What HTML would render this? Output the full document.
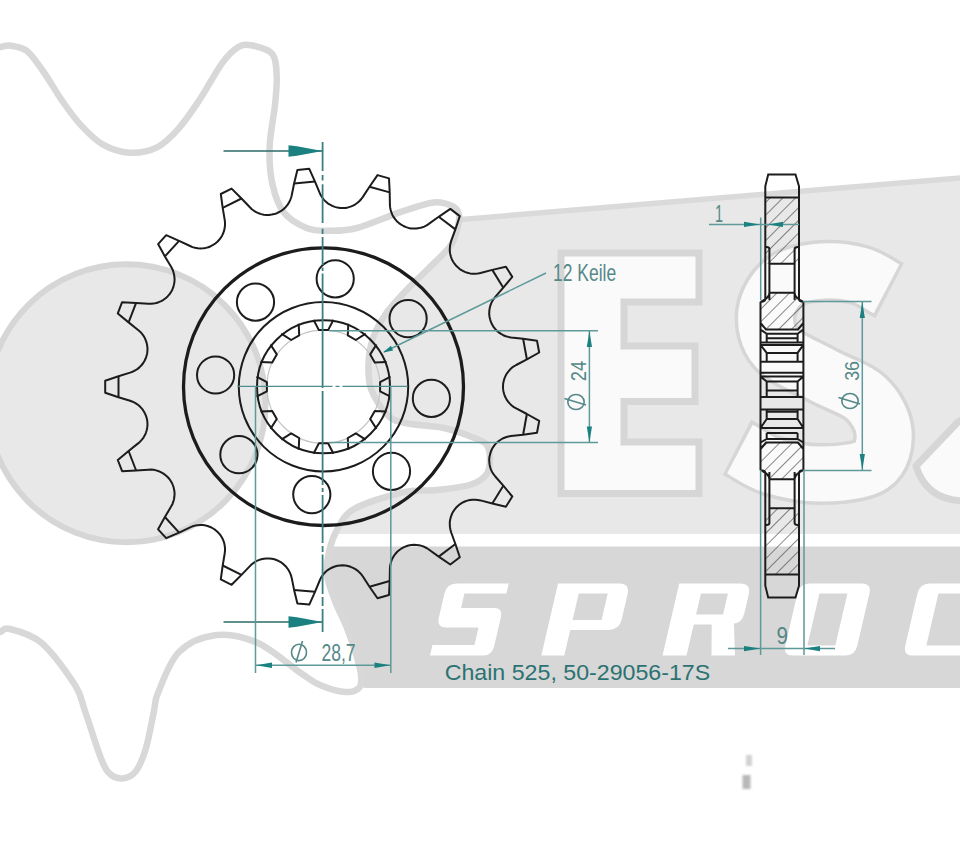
<!DOCTYPE html>
<html><head><meta charset="utf-8"><style>html,body{margin:0;padding:0;background:#fff;width:960px;height:849px;overflow:hidden;position:relative}</style></head>
<body>
<svg width="960" height="849" viewBox="0 0 960 849" style="position:absolute;left:0;top:0">
<rect width="960" height="849" fill="#ffffff"/>
<polygon points="300,236 460,219 960,178 960,534 300,534" fill="#e8e8e8"/>
<line x1="440" y1="221.2" x2="960" y2="178" stroke="#dadada" stroke-width="5.5"/>
<polygon points="300,546.5 960,546.5 960,688 364,688 345,670 300,620" fill="#d7d7d7"/>
<path d="M561,253 H699 V302 H624 V346 H695 V401.5 H624 V442 H699 V493.5 H561 Z" fill="#fafafa" stroke="#d6d6d6" stroke-width="7" stroke-linejoin="miter"/>
<path d="M889.6,290.6 L886.5,289.0 C882.1,286.7 870.8,278.0 860.0,275.0 C849.2,272.0 834.5,270.0 822.0,271.0 C809.5,272.0 794.3,274.2 785.0,281.0 C775.7,287.8 767.5,300.8 766.0,312.0 C764.5,323.2 766.7,337.5 776.0,348.0 C785.3,358.5 807.0,366.7 822.0,375.0 C837.0,383.3 855.7,388.5 866.0,398.0 C876.3,407.5 883.0,420.8 884.0,432.0 C885.0,443.2 882.3,458.0 872.0,465.0 C861.7,472.0 838.7,473.8 822.0,474.0 C805.3,474.2 785.7,470.2 772.0,466.0 C758.3,461.8 745.3,451.8 740.0,449.0 L736.9,447.4" fill="none" stroke="#d6d6d6" stroke-width="62" stroke-linecap="butt"/>
<path d="M886.5,289.0 C882.1,286.7 870.8,278.0 860.0,275.0 C849.2,272.0 834.5,270.0 822.0,271.0 C809.5,272.0 794.3,274.2 785.0,281.0 C775.7,287.8 767.5,300.8 766.0,312.0 C764.5,323.2 766.7,337.5 776.0,348.0 C785.3,358.5 807.0,366.7 822.0,375.0 C837.0,383.3 855.7,388.5 866.0,398.0 C876.3,407.5 883.0,420.8 884.0,432.0 C885.0,443.2 882.3,458.0 872.0,465.0 C861.7,472.0 838.7,473.8 822.0,474.0 C805.3,474.2 785.7,470.2 772.0,466.0 C758.3,461.8 745.3,451.8 740.0,449.0" fill="none" stroke="#fafafa" stroke-width="55" stroke-linecap="butt"/>
<path d="M975,412 L958,422 L916,466 Q926,499 962,501 L975,501 Z" fill="#fafafa" stroke="#d6d6d6" stroke-width="7" stroke-linejoin="round"/>
<path transform="translate(430.0,655.5) skewX(-13.1)" d="M62,-72 L62,-62 L20,-62 L20,-47.5 L53,-47.5 Q62,-47.5 62,-38.5 L62,-9 Q62,0 53,0 L0,0 L0,-10.5 L42,-10.5 L42,-28 L10,-28 Q0,-28 0,-38 L0,-62 Q0,-72 10,-72 Z" fill="#ffffff" fill-rule="evenodd"/>
<path transform="translate(541.3,655.5) skewX(-13.1)" d="M0,0 L0,-72 L61,-72 Q72,-72 72,-61 L72,-36 Q72,-25.5 61,-25.5 L23,-25.5 L23,0 Z M23,-62 L52,-62 L52,-35.5 L23,-35.5 Z" fill="#ffffff" fill-rule="evenodd"/>
<path transform="translate(662.5,655.5) skewX(-13.1)" d="M0,0 L0,-72 L61,-72 Q72,-72 72,-61 L72,-42 Q72,-33 64,-32 L72.5,0 L49,0 L42,-31 L24,-31 L24,0 Z M24,-62 L51,-62 L51,-41 L24,-41 Z" fill="#ffffff" fill-rule="evenodd"/>
<path transform="translate(783.0,655.5) skewX(-13.1)" d="M10,-72 L62,-72 Q72,-72 72,-62 L72,-10 Q72,0 62,0 L10,0 Q0,0 0,-10 L0,-62 Q0,-72 10,-72 Z M22,-62 L50,-62 L50,-10 L22,-10 Z" fill="#ffffff" fill-rule="evenodd"/>
<path transform="translate(903.0,655.5) skewX(-13.1)" d="M10,-72 L72,-72 L72,-62 L21,-62 L21,-10 L72,-10 L72,0 L10,0 Q0,0 0,-10 L0,-62 Q0,-72 10,-72 Z" fill="#ffffff" fill-rule="evenodd"/>
<path d="M-20.0,53.0 C-16.7,52.0 -5.1,48.3 0.0,47.1 C5.1,45.9 6.3,45.1 10.8,45.7 C15.3,46.4 21.6,46.7 27.0,51.0 C32.4,55.3 37.4,63.2 43.3,71.5 C49.2,79.8 56.0,92.0 62.3,101.0 C68.6,110.0 74.5,118.3 81.3,125.6 C88.1,132.9 94.9,140.1 103.0,144.6 C111.1,149.1 121.0,152.2 130.0,152.7 C139.0,153.1 148.9,151.4 157.0,147.3 C165.1,143.2 171.6,136.4 178.8,128.3 C186.0,120.2 193.2,109.3 200.4,98.5 C207.6,87.7 215.7,71.9 222.0,63.3 C228.3,54.7 233.2,50.0 238.3,47.0 C243.4,44.0 246.9,44.3 252.6,45.5 C258.3,46.7 268.4,48.8 272.4,54.0 C276.4,59.2 276.3,68.1 276.7,76.6 C277.1,85.1 276.2,93.3 275.0,105.0 C273.8,116.7 270.0,133.8 269.6,147.0 C269.2,160.2 270.0,173.1 272.4,184.0 C274.8,194.9 278.0,205.0 283.7,212.3 C289.4,219.6 298.8,224.8 306.4,227.9 C313.9,231.0 320.6,230.7 329.0,230.7 C337.4,230.7 345.2,231.1 357.0,228.0 C368.8,224.9 386.9,216.6 399.7,212.3 C412.5,208.0 424.7,203.4 433.6,202.4 C442.6,201.4 449.2,204.5 453.4,206.6 C457.6,208.7 458.2,211.8 459.0,215.0 C459.8,218.2 459.3,221.0 458.0,226.0 C456.7,231.0 456.0,237.8 451.0,245.0 C446.0,252.2 435.4,261.5 428.0,269.0 C420.6,276.5 413.8,282.3 406.6,290.0 C399.4,297.7 390.6,306.8 385.0,315.0 C379.4,323.2 375.4,330.8 372.7,339.0 C369.9,347.2 368.8,355.7 368.5,364.0 C368.2,372.3 367.9,380.6 371.0,389.0 C374.1,397.4 381.3,409.0 387.0,414.7 C392.7,420.4 395.5,420.8 405.0,423.0 C414.5,425.2 433.3,425.8 444.0,428.0 C454.7,430.2 462.0,433.3 469.0,436.0 C476.0,438.7 482.5,440.2 486.0,444.0 C489.5,447.8 490.0,453.8 490.0,459.0 C490.0,464.2 489.4,470.7 486.0,475.0 C482.6,479.3 477.8,482.5 469.5,485.0 C461.2,487.5 447.8,488.7 436.5,490.0 C425.2,491.3 415.8,489.4 402.0,492.6 C388.2,495.8 364.8,502.8 354.0,509.0 C343.2,515.2 341.2,522.8 337.0,530.0 C332.8,537.2 330.7,544.5 329.0,552.0 C327.3,559.5 326.0,566.8 327.0,575.0 C328.0,583.2 331.7,592.2 335.0,601.0 C338.3,609.8 343.5,619.2 347.0,628.0 C350.5,636.8 353.7,646.2 356.0,654.0 C358.3,661.8 360.5,669.3 361.0,675.0 C361.5,680.7 361.7,685.2 359.0,688.0 C356.3,690.8 351.5,692.5 345.0,692.0 C338.5,691.5 327.5,688.2 320.0,685.0 C312.5,681.8 310.3,679.5 300.0,672.5 C289.7,665.5 271.9,649.2 258.0,643.0 C244.1,636.8 229.9,633.5 216.7,635.0 C203.5,636.5 188.8,642.3 179.0,652.0 C169.2,661.7 162.2,683.2 158.0,693.0 C153.8,702.8 156.0,701.8 154.0,711.0 C152.0,720.2 149.0,738.0 146.0,748.0 C143.0,758.0 140.0,765.9 136.0,771.0 C132.0,776.1 126.7,778.3 122.0,778.5 C117.3,778.7 111.8,776.2 108.0,772.0 C104.2,767.8 102.8,763.2 99.0,753.0 C95.2,742.8 89.0,722.3 85.0,711.0 C81.0,699.7 82.2,696.3 75.0,685.0 C67.8,673.7 52.5,652.3 41.7,643.0 C30.9,633.7 16.9,630.8 10.0,629.0 C3.0,627.2 5.0,629.8 0.0,632.0 C-5.0,634.2 -13.3,637.0 -20.0,642.0 C-26.7,647.0 -36.7,658.7 -40.0,662.0 L-60,662 L-60,53 Z" fill="#ffffff" stroke="#d8d8d8" stroke-width="6.5" stroke-linejoin="round"/>
<circle cx="126.5" cy="403.3" r="139" fill="#e8e8e8" stroke="#d6d6d6" stroke-width="6"/>
<path d="M147.1,419.7 L146.4,417.1 L145.5,414.6 L144.3,412.2 L142.9,409.9 L141.2,407.9 L139.4,406.0 L137.3,404.3 L135.0,402.9 L132.6,401.7 L130.1,400.8 L118.5,397.2 L105.2,392.7 L105.2,380.7 L118.5,376.2 L130.1,372.6 L132.6,371.7 L135.0,370.5 L137.3,369.1 L139.4,367.4 L141.2,365.5 L142.9,363.5 L144.3,361.2 L145.5,358.8 L146.4,356.3 L147.1,353.7 L147.1,353.7 L147.4,351.1 L147.5,348.4 L147.2,345.7 L146.7,343.1 L145.9,340.6 L144.8,338.1 L143.5,335.8 L141.9,333.7 L140.1,331.7 L138.1,330.0 L128.6,322.4 L117.8,313.4 L122.1,302.2 L136.1,302.9 L148.3,303.7 L150.9,303.8 L153.6,303.6 L156.2,303.0 L158.7,302.2 L161.2,301.1 L163.5,299.8 L165.6,298.2 L167.6,296.4 L169.4,294.4 L170.9,292.2 L170.9,292.2 L172.2,289.9 L173.2,287.4 L173.9,284.8 L174.4,282.2 L174.6,279.5 L174.4,276.9 L174.0,274.2 L173.3,271.7 L172.4,269.2 L171.1,266.8 L164.9,256.4 L158.1,244.1 L166.2,235.2 L179.1,240.8 L190.1,246.0 L192.5,247.1 L195.1,247.8 L197.7,248.2 L200.4,248.4 L203.1,248.3 L205.7,247.9 L208.3,247.2 L210.8,246.2 L213.1,244.9 L215.3,243.5 L215.3,243.5 L217.4,241.7 L219.2,239.8 L220.8,237.7 L222.2,235.4 L223.3,233.0 L224.2,230.4 L224.7,227.8 L225.0,225.2 L225.0,222.5 L224.7,219.9 L222.7,207.9 L220.8,194.0 L231.6,188.6 L241.5,198.5 L249.9,207.3 L251.8,209.2 L254.0,210.8 L256.2,212.2 L258.7,213.3 L261.2,214.1 L263.8,214.7 L266.5,215.0 L269.1,214.9 L271.8,214.6 L274.4,214.1 L274.4,214.1 L276.9,213.2 L279.3,212.0 L281.6,210.7 L283.7,209.0 L285.6,207.2 L287.3,205.1 L288.8,202.9 L290.0,200.5 L291.0,198.0 L291.7,195.5 L294.1,183.5 L297.4,169.9 L309.3,168.8 L315.0,181.6 L319.7,192.9 L320.8,195.3 L322.2,197.5 L323.8,199.6 L325.7,201.6 L327.7,203.3 L330.0,204.7 L332.3,205.9 L334.8,206.9 L337.4,207.6 L340.1,208.0 L340.1,208.0 L342.7,208.1 L345.4,207.9 L348.0,207.4 L350.6,206.6 L353.0,205.6 L355.4,204.3 L357.5,202.8 L359.5,201.0 L361.3,199.0 L362.9,196.9 L369.5,186.7 L377.5,175.1 L389.0,178.4 L389.7,192.4 L389.9,204.6 L390.1,207.2 L390.6,209.8 L391.4,212.4 L392.4,214.9 L393.7,217.2 L395.3,219.4 L397.0,221.4 L399.0,223.1 L401.2,224.7 L403.5,226.0 L403.5,226.0 L406.0,227.1 L408.5,227.9 L411.1,228.4 L413.8,228.6 L416.5,228.5 L419.1,228.1 L421.7,227.5 L424.2,226.6 L426.6,225.4 L428.8,223.9 L438.7,216.8 L450.3,208.9 L459.8,216.1 L455.4,229.4 L451.2,240.9 L450.5,243.4 L450.0,246.0 L449.8,248.7 L449.8,251.4 L450.2,254.0 L450.9,256.6 L451.8,259.1 L453.0,261.5 L454.5,263.7 L456.2,265.8 L456.2,265.8 L458.1,267.6 L460.1,269.3 L462.4,270.7 L464.8,271.9 L467.3,272.8 L469.9,273.4 L472.6,273.7 L475.2,273.7 L477.9,273.5 L480.5,273.0 L492.3,269.9 L505.9,266.7 L512.3,276.9 L503.3,287.7 L495.3,296.9 L493.7,299.0 L492.2,301.2 L491.1,303.6 L490.2,306.1 L489.6,308.7 L489.3,311.4 L489.2,314.1 L489.5,316.7 L490.1,319.3 L490.9,321.9 L490.9,321.9 L492.0,324.3 L493.3,326.6 L494.9,328.7 L496.7,330.7 L498.8,332.4 L501.0,333.9 L503.3,335.2 L505.8,336.2 L508.4,336.9 L511.0,337.4 L523.1,338.7 L537.0,340.7 L539.2,352.5 L526.9,359.4 L516.2,365.0 L513.9,366.3 L511.7,367.9 L509.8,369.8 L508.1,371.8 L506.5,374.0 L505.3,376.4 L504.3,378.8 L503.6,381.4 L503.1,384.0 L503.0,386.7 L503.0,386.7 L503.1,389.4 L503.6,392.0 L504.3,394.6 L505.3,397.0 L506.5,399.4 L508.1,401.6 L509.8,403.6 L511.7,405.5 L513.9,407.1 L516.2,408.4 L526.9,414.0 L539.2,420.9 L537.0,432.7 L523.1,434.7 L511.0,436.0 L508.4,436.5 L505.8,437.2 L503.3,438.2 L501.0,439.5 L498.8,441.0 L496.7,442.7 L494.9,444.7 L493.3,446.8 L492.0,449.1 L490.9,451.5 L490.9,451.5 L490.1,454.1 L489.5,456.7 L489.2,459.3 L489.3,462.0 L489.6,464.7 L490.2,467.3 L491.1,469.8 L492.2,472.2 L493.7,474.4 L495.3,476.5 L503.3,485.7 L512.3,496.5 L505.9,506.7 L492.3,503.5 L480.5,500.4 L477.9,499.9 L475.2,499.7 L472.6,499.7 L469.9,500.0 L467.3,500.6 L464.8,501.5 L462.4,502.7 L460.1,504.1 L458.1,505.8 L456.2,507.6 L456.2,507.6 L454.5,509.7 L453.0,511.9 L451.8,514.3 L450.9,516.8 L450.2,519.4 L449.8,522.0 L449.8,524.7 L450.0,527.4 L450.5,530.0 L451.2,532.5 L455.4,544.0 L459.8,557.3 L450.3,564.5 L438.7,556.6 L428.8,549.5 L426.6,548.0 L424.2,546.8 L421.7,545.9 L419.1,545.3 L416.5,544.9 L413.8,544.8 L411.1,545.0 L408.5,545.5 L406.0,546.3 L403.5,547.4 L403.5,547.4 L401.2,548.7 L399.0,550.3 L397.0,552.0 L395.3,554.0 L393.7,556.2 L392.4,558.5 L391.4,561.0 L390.6,563.6 L390.1,566.2 L389.9,568.8 L389.7,581.0 L389.0,595.0 L377.5,598.3 L369.5,586.7 L362.9,576.5 L361.3,574.4 L359.5,572.4 L357.5,570.6 L355.4,569.1 L353.0,567.8 L350.6,566.8 L348.0,566.0 L345.4,565.5 L342.7,565.3 L340.1,565.4 L340.1,565.4 L337.4,565.8 L334.8,566.5 L332.3,567.5 L330.0,568.7 L327.7,570.1 L325.7,571.8 L323.8,573.8 L322.2,575.9 L320.8,578.1 L319.7,580.5 L315.0,591.8 L309.3,604.6 L297.4,603.5 L294.1,589.9 L291.7,577.9 L291.0,575.4 L290.0,572.9 L288.8,570.5 L287.3,568.3 L285.6,566.2 L283.7,564.4 L281.6,562.7 L279.3,561.4 L276.9,560.2 L274.4,559.3 L274.4,559.3 L271.8,558.8 L269.1,558.5 L266.5,558.4 L263.8,558.7 L261.2,559.3 L258.7,560.1 L256.2,561.2 L254.0,562.6 L251.8,564.2 L249.9,566.1 L241.5,574.9 L231.6,584.8 L220.8,579.4 L222.7,565.5 L224.7,553.5 L225.0,550.9 L225.0,548.2 L224.7,545.6 L224.2,543.0 L223.3,540.4 L222.2,538.0 L220.8,535.7 L219.2,533.6 L217.4,531.7 L215.3,529.9 L215.3,529.9 L213.1,528.5 L210.8,527.2 L208.3,526.2 L205.7,525.5 L203.1,525.1 L200.4,525.0 L197.7,525.2 L195.1,525.6 L192.5,526.3 L190.1,527.4 L179.1,532.6 L166.2,538.2 L158.1,529.3 L164.9,517.0 L171.1,506.6 L172.4,504.2 L173.3,501.7 L174.0,499.2 L174.4,496.5 L174.6,493.9 L174.4,491.2 L173.9,488.6 L173.2,486.0 L172.2,483.5 L170.9,481.2 L170.9,481.2 L169.4,479.0 L167.6,477.0 L165.6,475.2 L163.5,473.6 L161.2,472.3 L158.7,471.2 L156.2,470.4 L153.6,469.8 L150.9,469.6 L148.3,469.7 L136.1,470.5 L122.1,471.2 L117.8,460.0 L128.6,451.0 L138.1,443.4 L140.1,441.7 L141.9,439.7 L143.5,437.6 L144.8,435.3 L145.9,432.8 L146.7,430.3 L147.2,427.7 L147.5,425.0 L147.4,422.3 L147.1,419.7Z" fill="none" stroke="#1c1c1c" stroke-width="2" stroke-linejoin="round"/>
<line x1="118.5" y1="397.2" x2="118.5" y2="376.2" stroke="#1c1c1c" stroke-width="2"/>
<line x1="128.6" y1="322.4" x2="136.1" y2="302.9" stroke="#1c1c1c" stroke-width="2"/>
<line x1="164.9" y1="256.4" x2="179.1" y2="240.8" stroke="#1c1c1c" stroke-width="2"/>
<line x1="222.7" y1="207.9" x2="241.5" y2="198.5" stroke="#1c1c1c" stroke-width="2"/>
<line x1="294.1" y1="183.5" x2="315.0" y2="181.6" stroke="#1c1c1c" stroke-width="2"/>
<line x1="369.5" y1="186.7" x2="389.7" y2="192.4" stroke="#1c1c1c" stroke-width="2"/>
<line x1="438.7" y1="216.8" x2="455.4" y2="229.4" stroke="#1c1c1c" stroke-width="2"/>
<line x1="492.3" y1="269.9" x2="503.3" y2="287.7" stroke="#1c1c1c" stroke-width="2"/>
<line x1="523.1" y1="338.7" x2="526.9" y2="359.4" stroke="#1c1c1c" stroke-width="2"/>
<line x1="526.9" y1="414.0" x2="523.1" y2="434.7" stroke="#1c1c1c" stroke-width="2"/>
<line x1="503.3" y1="485.7" x2="492.3" y2="503.5" stroke="#1c1c1c" stroke-width="2"/>
<line x1="455.4" y1="544.0" x2="438.7" y2="556.6" stroke="#1c1c1c" stroke-width="2"/>
<line x1="389.7" y1="581.0" x2="369.5" y2="586.7" stroke="#1c1c1c" stroke-width="2"/>
<line x1="315.0" y1="591.8" x2="294.1" y2="589.9" stroke="#1c1c1c" stroke-width="2"/>
<line x1="241.5" y1="574.9" x2="222.7" y2="565.5" stroke="#1c1c1c" stroke-width="2"/>
<line x1="179.1" y1="532.6" x2="164.9" y2="517.0" stroke="#1c1c1c" stroke-width="2"/>
<line x1="136.1" y1="470.5" x2="128.6" y2="451.0" stroke="#1c1c1c" stroke-width="2"/>
<ellipse cx="323.5" cy="386.7" rx="140" ry="138.8" fill="none" stroke="#1c1c1c" stroke-width="3.3"/>
<circle cx="323.5" cy="386.7" r="84.7" fill="none" stroke="#1c1c1c" stroke-width="2"/>
<circle cx="431.4" cy="398.4" r="18.6" fill="none" stroke="#1c1c1c" stroke-width="2"/>
<circle cx="391.5" cy="471.3" r="18.6" fill="none" stroke="#1c1c1c" stroke-width="2"/>
<circle cx="311.8" cy="494.6" r="18.6" fill="none" stroke="#1c1c1c" stroke-width="2"/>
<circle cx="238.9" cy="454.7" r="18.6" fill="none" stroke="#1c1c1c" stroke-width="2"/>
<circle cx="215.6" cy="375.0" r="18.6" fill="none" stroke="#1c1c1c" stroke-width="2"/>
<circle cx="255.5" cy="302.1" r="18.6" fill="none" stroke="#1c1c1c" stroke-width="2"/>
<circle cx="335.2" cy="278.8" r="18.6" fill="none" stroke="#1c1c1c" stroke-width="2"/>
<circle cx="408.1" cy="318.7" r="18.6" fill="none" stroke="#1c1c1c" stroke-width="2"/>
<circle cx="323.5" cy="386.7" r="56.6" fill="none" stroke="#c4c4c4" stroke-width="1.2"/>
<circle cx="323.5" cy="386.7" r="66.5" fill="none" stroke="#1c1c1c" stroke-width="2"/>
<path d="M313.5,319.7 L318.9,330.1 L328.1,330.1 L333.5,319.7 M348.3,323.7 L347.8,335.4 L355.8,340.0 L365.7,333.7 M376.5,344.5 L370.2,354.4 L374.8,362.4 L386.5,361.9 M390.5,376.7 L380.1,382.1 L380.1,391.3 L390.5,396.7 M386.5,411.5 L374.8,411.0 L370.2,419.0 L376.5,428.9 M365.7,439.7 L355.8,433.4 L347.8,438.0 L348.3,449.7 M333.5,453.7 L328.1,443.3 L318.9,443.3 L313.5,453.7 M298.7,449.7 L299.2,438.0 L291.2,433.4 L281.3,439.7 M270.5,428.9 L276.8,419.0 L272.2,411.0 L260.5,411.5 M256.5,396.7 L266.9,391.3 L266.9,382.1 L256.5,376.7 M260.5,361.9 L272.2,362.4 L276.8,354.4 L270.5,344.5 M281.3,333.7 L291.2,340.0 L299.2,335.4 L298.7,323.7 " fill="none" stroke="#1c1c1c" stroke-width="2" stroke-linejoin="round"/>
<defs><pattern id="hat" patternUnits="userSpaceOnUse" width="9" height="9" patternTransform="rotate(45)"><line x1="0" y1="0" x2="0" y2="9" stroke="#484848" stroke-width="1.3"/></pattern></defs>
<path d="M765.3,197.4 H799.0 V263.7 H765.3 Z" fill="url(#hat)" stroke="none"/>
<path d="M765.3,508.3 H799.0 V574.6 H765.3 Z" fill="url(#hat)" stroke="none"/>
<path d="M769.4,292.8 H794.6 L803.4,301.8 V323 L798.4,329.5 H765.5 L760.5,323 V301.8 Z" fill="url(#hat)" stroke="none"/>
<path d="M765.5,442.5 H798.4 L803.4,449.0 V470.2 L794.6,479.2 H769.4 L760.5,470.2 V449.0 Z" fill="url(#hat)" stroke="none"/>
<path d="M765.3,300 V186.3 L768.2,174.4 H795.5 L799.0,186.3 V300 M765.3,472.0 V585.7 L768.2,597.6 H795.5 L799.0,585.7 V472.0 M760.5,301.8 V470.2 M803.4,301.8 V470.2 M765.3,299 Q765.3,301.8 760.5,301.8 M799.0,299 Q799.0,301.8 803.4,301.8 M765.3,473.0 Q765.3,470.2 760.5,470.2 M799.0,473.0 Q799.0,470.2 803.4,470.2 M765.3,197.4 H799.0 M765.3,574.6 H799.0 M769.4,263.7 H794.6 M769.4,508.3 H794.6 M769.4,292.8 H794.6 M769.4,479.2 H794.6 M769.4,300 V249 Q769.4,247 766.3,247 M794.6,300 V249 Q794.6,247 798.0,247 M769.4,472.0 V523.0 Q769.4,525.0 766.3,525.0 M794.6,472.0 V523.0 Q794.6,525.0 798.0,525.0 M769.4,292.8 Q769.4,298 760.5,301.8 M794.6,292.8 Q794.6,298 803.4,301.8 M760.5,323 L766.0,329.5 H797.9 L803.4,323 M769.4,479.2 Q769.4,474.0 760.5,470.2 M794.6,479.2 Q794.6,474.0 803.4,470.2 M760.5,449.0 L766.0,442.5 H797.9 L803.4,449.0 M760.5,342.6 H803.4 M760.5,344.9 H803.4 M760.5,361.8 H803.4 M760.5,372.8 H803.4 M760.5,376.5 H803.4 M760.5,397.0 H803.4 M760.5,409.6 H803.4 M760.5,428.0 H803.4 M766.7,333.8 H797.6 M766.7,338.2 H797.6 M766.7,352.9 H797.6 M766.7,381.6 H797.6 M766.7,390.4 H797.6 M766.7,411.8 H797.6 M766.7,419.0 H797.6 M766.7,433.0 H797.6 M766.7,439.0 H797.6 M760.5,344.9 L766.7,352.9 M803.4,344.9 L797.6,352.9 M760.5,376.5 L766.7,381.6 M803.4,376.5 L797.6,381.6 M760.5,428.0 L766.7,419.0 M803.4,428.0 L797.6,419.0 M760.5,329.5 L766.7,333.8 M803.4,329.5 L797.6,333.8 M760.5,442.5 L766.7,439.0 M803.4,442.5 L797.6,439.0 M766.7,352.9 V361.8 M797.6,352.9 V361.8 M766.7,381.6 V397.0 M797.6,381.6 V397.0 M766.7,409.6 V419.0 M797.6,409.6 V419.0 M766.7,333.8 V342.6 M797.6,333.8 V342.6 M766.7,433.0 V439.0 M797.6,433.0 V439.0" fill="none" stroke="#1c1c1c" stroke-width="2"/>
<g stroke="#1a8080" fill="none">
<path d="M322.6,142 V171 M322.6,175 V180.5 M322.6,184.3 V223 M322.6,228.7 V234 M322.6,237 V265 M322.6,267.5 V271 M322.6,273.5 V388 M322.6,391 V485 M322.6,488 V492 M322.6,495 V543 M322.6,546 V552 M322.6,554.5 V594 M322.6,597 V606 M322.6,609 V632" stroke="#3a8080" stroke-width="1.8"/>
<line x1="237.5" y1="386.4" x2="407.5" y2="386.4" stroke="#4f8e8e" stroke-width="1.3" stroke-dasharray="95 3 4 3 200"/>
<line x1="223.5" y1="151" x2="322" y2="151" stroke="#2a6a6a" stroke-width="1.5"/>
<line x1="223.5" y1="622" x2="322" y2="622" stroke="#2a6a6a" stroke-width="1.5"/>
</g>
<polygon points="288.5,145.2 297,146.3 322.5,151 297,155.7 288.5,156.8" fill="#1a8080"/>
<polygon points="288.5,616.2 297,617.3 322.5,622 297,626.7 288.5,627.8" fill="#1a8080"/>
<g stroke="#5f9999" fill="none" stroke-width="1.5">
<line x1="255.5" y1="386" x2="255.5" y2="673"/>
<line x1="390.8" y1="386" x2="390.8" y2="673"/>
<line x1="256" y1="665.2" x2="390.5" y2="665.2"/>
<line x1="329" y1="330.7" x2="598" y2="330.7"/>
<line x1="329" y1="442.6" x2="598" y2="442.6"/>
<line x1="589.4" y1="331" x2="589.4" y2="442"/>
<line x1="546" y1="273" x2="384" y2="352"/>
<line x1="803" y1="301.5" x2="871.5" y2="301.5"/>
<line x1="803" y1="470.4" x2="871.5" y2="470.4"/>
<line x1="862.3" y1="302" x2="862.3" y2="470"/>
<line x1="709" y1="224.4" x2="799" y2="224.4"/>
<line x1="760.7" y1="217.5" x2="760.7" y2="300"/>
<line x1="760.6" y1="470" x2="760.6" y2="655"/>
<line x1="804" y1="470" x2="804" y2="655"/>
<line x1="728" y1="648.6" x2="835" y2="648.6"/>
</g>
<polygon points="256.0,665.2 272.0,662.4 272.0,668.0" fill="#1a8080"/>
<polygon points="390.5,665.2 374.5,668.0 374.5,662.4" fill="#1a8080"/>
<polygon points="589.4,331.0 592.0,347.0 586.8,347.0" fill="#1a8080"/>
<polygon points="589.4,442.5 586.8,426.5 592.0,426.5" fill="#1a8080"/>
<polygon points="862.3,302.0 864.9,318.0 859.7,318.0" fill="#1a8080"/>
<polygon points="862.3,470.0 859.7,454.0 864.9,454.0" fill="#1a8080"/>
<polygon points="760.0,224.4 744.0,227.0 744.0,221.8" fill="#1a8080"/>
<polygon points="768.0,224.4 783.0,221.8 783.0,227.0" fill="#1a8080"/>
<polygon points="760.6,648.6 744.0,651.2 744.0,646.0" fill="#1a8080"/>
<polygon points="804.0,648.6 820.0,646.0 820.0,651.2" fill="#1a8080"/>
<polygon points="383.0,352.5 390.9,345.8 393.1,350.4" fill="#1a8080"/>
<g font-family="&#39;Liberation Sans&#39;, sans-serif" fill="#558888">
<text x="0" y="0" font-size="23" transform="translate(553,280.6) scale(0.76,1)">12 Keile</text>
<text x="0" y="0" font-size="23.7" transform="translate(321.5,660.8) scale(0.74,1)">28,7</text>
<text x="0" y="0" font-size="24" transform="translate(714.9,222) scale(0.6,1)">1</text>
<text x="0" y="0" font-size="23.5" transform="translate(776.6,643.5) scale(0.88,1)">9</text>
<text x="0" y="0" font-size="22.3" transform="translate(585.8,381.2) rotate(-90) scale(0.82,1)">24</text>
<text x="0" y="0" font-size="21" transform="translate(859.2,380.8) rotate(-90) scale(0.85,1)">36</text>
</g>
<g transform="translate(299,652.4) rotate(0)" stroke="#558888" fill="none" stroke-width="1.6"><ellipse cx="0" cy="0" rx="7.5" ry="8.2"/><line x1="-3" y1="10" x2="3.5" y2="-11.5"/></g>
<g transform="translate(576,402) rotate(-90)" stroke="#558888" fill="none" stroke-width="1.6"><ellipse cx="0" cy="0" rx="7.5" ry="8.2"/><line x1="-3" y1="10" x2="3.5" y2="-11.5"/></g>
<g transform="translate(850,401) rotate(-90)" stroke="#558888" fill="none" stroke-width="1.6"><ellipse cx="0" cy="0" rx="7.5" ry="8.2"/><line x1="-3" y1="10" x2="3.5" y2="-11.5"/></g>
<text x="0" y="0" transform="translate(444.7,679.8) scale(1.054,1)" font-family="&#39;Liberation Sans&#39;, sans-serif" font-size="22" fill="#2b7272">Chain 525, 50-29056-17S</text>
<defs><filter id="bl" x="-2" y="-2" width="5" height="5"><feGaussianBlur stdDeviation="1.3"/></filter></defs>
<g filter="url(#bl)"><rect x="746" y="755" width="6" height="11" fill="#d2d2d2"/><rect x="742.5" y="775" width="8" height="14" fill="#b8b8b8"/></g>
</svg>
</body></html>
